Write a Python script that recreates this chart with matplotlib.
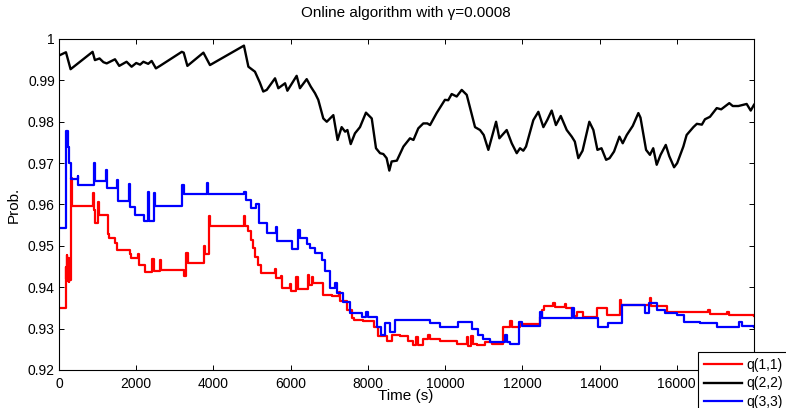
import numpy as np
import matplotlib
matplotlib.use("Agg")
import matplotlib.pyplot as plt

# q(1,1) - step data (time, prob)
red_t = [0, 175, 190, 205, 220, 235, 250, 265, 285, 300, 330, 870, 900, 930, 1010, 1040,
         1260, 1290, 1460, 1500, 1840, 1870, 2050, 2080, 2220, 2420, 2450, 2620, 2650,
         3240, 3300, 3330, 3760, 3790, 3880, 3910, 4790, 4830, 4900, 4960, 5020, 5080,
         5150, 5230, 5600, 5630, 5740, 5770, 5980, 6010, 6150, 6190, 6450, 6480, 6540,
         6570, 6840, 7060, 7240, 7280, 7450, 7600, 7650, 7880, 8150, 8260, 8490, 8620,
         8830, 9050, 9180, 9250, 9290, 9430, 9560, 9600, 9870, 10300, 10560, 10600,
         10680, 10720, 10820, 11040, 11210, 11510, 11680, 11720, 11940, 12460, 12520,
         12570, 12800, 12840, 13100, 13140, 13290, 13420, 13560, 13935, 14195, 14530,
         14560, 15300, 15340, 15745, 16800, 16860, 17300, 17340, 18000]
red_v = [0.9351, 0.9450, 0.9420, 0.9478, 0.9415, 0.9470, 0.9412, 0.9455, 0.9418, 0.9664,
         0.9597, 0.9627, 0.9587, 0.9555, 0.9607, 0.9575, 0.9529, 0.9519, 0.9507, 0.9490,
         0.9480, 0.9470, 0.9480, 0.9454, 0.9436, 0.9468, 0.9440, 0.9466, 0.9442, 0.9426,
         0.9482, 0.9458, 0.9500, 0.9480, 0.9571, 0.9548, 0.9573, 0.9549, 0.9535, 0.9515,
         0.9494, 0.9474, 0.9454, 0.9434, 0.9445, 0.9422, 0.9426, 0.9398, 0.9408, 0.9391,
         0.9425, 0.9395, 0.9430, 0.9405, 0.9425, 0.9410, 0.9382, 0.9378, 0.9388, 0.9366,
         0.9346, 0.9326, 0.9321, 0.9319, 0.9305, 0.9281, 0.9269, 0.9285, 0.9282, 0.9269,
         0.9261, 0.9280, 0.9261, 0.9275, 0.9285, 0.9275, 0.9269, 0.9263, 0.9280, 0.9258,
         0.9282, 0.9262, 0.9261, 0.9268, 0.9264, 0.9305, 0.9318, 0.9305, 0.9312, 0.9329,
         0.9346, 0.9354, 0.9362, 0.9352, 0.9360, 0.9350, 0.9330, 0.9339, 0.9329, 0.9350,
         0.9333, 0.9370, 0.9358, 0.9374, 0.9354, 0.9341, 0.9345, 0.9336, 0.9340, 0.9333,
         0.9330]

# q(2,2)
black_t = [0, 180, 300, 870, 930, 1050, 1150, 1235, 1450, 1560, 1750, 1880, 2000, 2100,
           2185, 2310, 2400, 2510, 2615, 3180, 3230, 3325, 3740, 3910, 4790, 4905, 5075,
           5200, 5290, 5380, 5595, 5680, 5855, 5915, 6155, 6240, 6415, 6520, 6630, 6715,
           6845, 6935, 7020, 7105, 7215, 7320, 7410, 7470, 7555, 7665, 7795, 7950, 8100,
           8210, 8315, 8400, 8485, 8555, 8615, 8750, 8920, 9090, 9180, 9305, 9435, 9540,
           9610, 9780, 9995, 10080, 10170, 10300, 10430, 10560, 10710, 10775, 10905,
           11000, 11120, 11320, 11405, 11595, 11725, 11855, 11940, 12025, 12095, 12285,
           12415, 12545, 12650, 12760, 12870, 12995, 13150, 13280, 13360, 13450, 13560,
           13735, 13840, 13945, 14050, 14170, 14260, 14375, 14515, 14600, 14705, 14860,
           15005, 15060, 15205, 15305, 15390, 15480, 15580, 15715, 15805, 15930, 16010,
           16170, 16255, 16430, 16520, 16650, 16730, 16860, 17035, 17150, 17360, 17450,
           17595, 17810, 17915, 18000]
black_v = [0.9960, 0.9968, 0.9927, 0.9969, 0.9949, 0.9953, 0.9944, 0.9941, 0.9951, 0.9935,
           0.9945, 0.9933, 0.9942, 0.9938, 0.9945, 0.9940, 0.9947, 0.9929, 0.9935, 0.9969,
           0.9967, 0.9935, 0.9967, 0.9937, 0.9984, 0.9933, 0.9921, 0.9895, 0.9873, 0.9877,
           0.9905, 0.9881, 0.9893, 0.9875, 0.9911, 0.9881, 0.9903, 0.9885, 0.9869, 0.9853,
           0.9808, 0.9800, 0.9808, 0.9816, 0.9756, 0.9787, 0.9776, 0.9780, 0.9746, 0.9772,
           0.9787, 0.9822, 0.9808, 0.9736, 0.9724, 0.9722, 0.9712, 0.9682, 0.9704, 0.9706,
           0.9740, 0.9760, 0.9756, 0.9784, 0.9796, 0.9796, 0.9792, 0.9821, 0.9853, 0.9852,
           0.9867, 0.9861, 0.9877, 0.9865, 0.9811, 0.9787, 0.9780, 0.9768, 0.9732, 0.9800,
           0.9760, 0.9780, 0.9748, 0.9724, 0.9736, 0.9730, 0.9740, 0.9804, 0.9824, 0.9787,
           0.9805, 0.9827, 0.9792, 0.9814, 0.9780, 0.9764, 0.9752, 0.9712, 0.9730, 0.9800,
           0.9780, 0.9732, 0.9736, 0.9708, 0.9712, 0.9728, 0.9764, 0.9748, 0.9768, 0.9790,
           0.9821, 0.9810, 0.9732, 0.9720, 0.9736, 0.9696, 0.9720, 0.9744, 0.9717, 0.9690,
           0.9700, 0.9740, 0.9768, 0.9787, 0.9795, 0.9793, 0.9806, 0.9812, 0.9833, 0.9830,
           0.9845, 0.9838, 0.9838, 0.9843, 0.9827, 0.9841]

# q(3,3) - step data
blue_t = [0, 190, 230, 260, 300, 480, 500, 905, 935, 1210, 1240, 1510, 1540, 1810, 1840,
          1960, 2200, 2310, 2340, 2460, 2490, 3195, 3240, 3830, 3870, 4790, 4850, 4980,
          5100, 5180, 5395, 5610, 5650, 6035, 6200, 6240, 6415, 6500, 6630, 6800, 6900,
          7020, 7150, 7195, 7365, 7540, 7840, 7950, 8000, 8225, 8350, 8440, 8570, 8700,
          8920, 9610, 9870, 10345, 10690, 10850, 10990, 11165, 11560, 11600, 11680, 11920,
          12000, 12460, 12520, 13290, 13330, 13970, 14230, 14570, 15180, 15270, 15500,
          15700, 16000, 16180, 16610, 17050, 17600, 17700, 18000]
blue_v = [0.9543, 0.9778, 0.9740, 0.9700, 0.9662, 0.9670, 0.9647, 0.9700, 0.9657, 0.9684,
          0.9641, 0.9659, 0.9609, 0.9649, 0.9595, 0.9575, 0.9561, 0.9630, 0.9561, 0.9627,
          0.9597, 0.9647, 0.9626, 0.9651, 0.9625, 0.9630, 0.9610, 0.9591, 0.9600, 0.9556,
          0.9531, 0.9545, 0.9511, 0.9493, 0.9539, 0.9520, 0.9505, 0.9495, 0.9482, 0.9465,
          0.9440, 0.9398, 0.9410, 0.9386, 0.9365, 0.9338, 0.9329, 0.9340, 0.9329, 0.9305,
          0.9285, 0.9313, 0.9293, 0.9320, 0.9321, 0.9313, 0.9305, 0.9315, 0.9300, 0.9285,
          0.9275, 0.9267, 0.9285, 0.9267, 0.9264, 0.9317, 0.9307, 0.9341, 0.9326, 0.9350,
          0.9325, 0.9305, 0.9313, 0.9358, 0.9338, 0.9362, 0.9345, 0.9338, 0.9333, 0.9317,
          0.9313, 0.9305, 0.9317, 0.9307, 0.9305]

labels = ["q(1,1)", "q(2,2)", "q(3,3)"]
xtick_labels = ["0", "2000", "4000", "6000", "8000", "10000", "12000", "14000", "16000", ""]
ytick_labels = ["0.92", "0.93", "0.94", "0.95", "0.96", "0.97", "0.98", "0.99", "1"]

plt.rcParams['font.family'] = ['Liberation Sans', 'DejaVu Sans']
plt.rcParams['font.size'] = 10

fig = plt.figure(figsize=(7.86, 4.08), dpi=100)
ax = fig.add_axes([59 / 786, 38 / 408, 695 / 786, 331 / 408])

# Plot the signals
ax.plot(red_t, red_v, color="red", lw=1.6, drawstyle="steps-post", label=labels[0])
ax.plot(black_t, black_v, color="black", lw=1.7, label=labels[1])
ax.plot(blue_t, blue_v, color="blue", lw=1.6, drawstyle="steps-post", label=labels[2])

ax.set_xlim(0, 18000)
ax.set_ylim(0.92, 1.0)
ax.set_xticks(np.arange(0, 18001, 2000))
ax.set_xticklabels(xtick_labels)
ax.set_yticks(np.arange(0.92, 1.0001, 0.01))
ax.set_yticklabels(ytick_labels)

# MATLAB-like ticks
ax.tick_params(direction="in", top=True, right=True, length=3.5, width=0.7, labelsize=10)
ax.tick_params(axis="x", pad=5)
ax.tick_params(axis="y", pad=3)
for sp in ax.spines.values():
    sp.set_linewidth(0.8)

fig.text(406 / 786, 1 - 13 / 408, "Online algorithm with γ=0.0008",
         ha="center", va="center", fontsize=11)
fig.text(406 / 786, 1 - 396 / 408, "Time (s)", ha="center", va="center", fontsize=11)
fig.text(14 / 786, 1 - 205 / 408, "Prob.", ha="center", va="center",
         rotation=90, fontsize=11)

leg = ax.legend(loc="upper left", bbox_to_anchor=(698 / 786, 1 - 352 / 408),
                bbox_transform=fig.transFigure, borderaxespad=0, fancybox=False,
                framealpha=1, edgecolor="black", handlelength=2.75, handletextpad=0.3,
                labelspacing=0.35, borderpad=0.4, fontsize=10)
leg.get_frame().set_linewidth(0.8)

fig.savefig("out.png", dpi=100)
